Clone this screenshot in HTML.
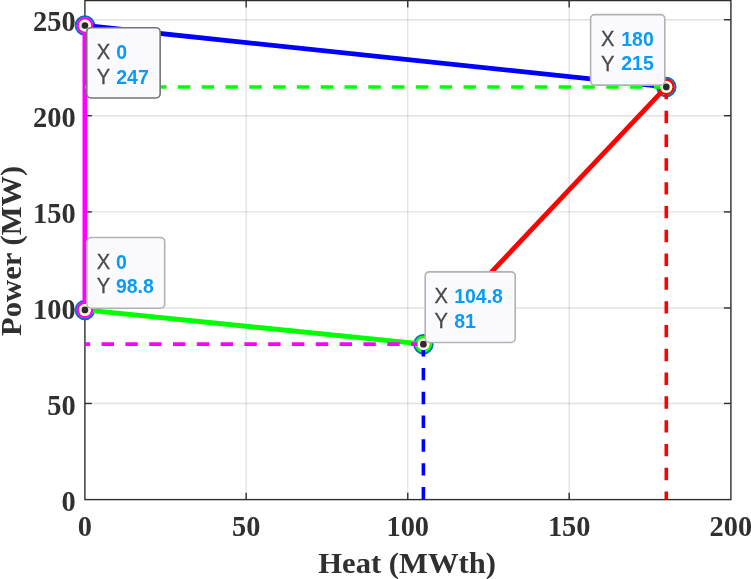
<!DOCTYPE html><html><head><meta charset="utf-8"><title>Heat Power</title>
<style>html,body{margin:0;padding:0;background:#fff;overflow:hidden}svg{display:block}.tk{font-family:"Liberation Serif","Times New Roman",serif;font-weight:bold;font-size:28.4px;fill:#303030}.lb{font-family:"Liberation Serif","Times New Roman",serif;font-weight:bold;font-size:29.3px;fill:#303030}.tl{font-family:"Liberation Sans",Arial,sans-serif;font-size:21.2px;fill:#484848;stroke:#484848;stroke-width:0.3px}.tv{font-family:"Liberation Sans",Arial,sans-serif;font-size:20.6px;font-weight:bold;fill:#0a9bf7}</style></head><body>
<svg width="751" height="579" viewBox="0 0 751 579">
<rect x="0" y="0" width="751" height="579" fill="#fff"/>
<line x1="246.17" y1="0.55" x2="246.17" y2="499.6" stroke="#262626" stroke-opacity="0.135" stroke-width="1.35"/>
<line x1="407.76" y1="0.55" x2="407.76" y2="499.6" stroke="#262626" stroke-opacity="0.135" stroke-width="1.35"/>
<line x1="569.17" y1="0.55" x2="569.17" y2="499.6" stroke="#262626" stroke-opacity="0.135" stroke-width="1.35"/>
<line x1="84.9" y1="403.45" x2="730.9" y2="403.45" stroke="#262626" stroke-opacity="0.135" stroke-width="1.35"/>
<line x1="84.9" y1="307.96" x2="730.9" y2="307.96" stroke="#262626" stroke-opacity="0.135" stroke-width="1.35"/>
<line x1="84.9" y1="211.90" x2="730.9" y2="211.90" stroke="#262626" stroke-opacity="0.135" stroke-width="1.35"/>
<line x1="84.9" y1="115.73" x2="730.9" y2="115.73" stroke="#262626" stroke-opacity="0.135" stroke-width="1.35"/>
<line x1="84.9" y1="19.76" x2="730.9" y2="19.76" stroke="#262626" stroke-opacity="0.135" stroke-width="1.35"/>
<rect x="84.9" y="0.55" width="646.00" height="499.05" fill="none" stroke="#2e2e2e" stroke-width="1.4"/>
<line x1="246.17" y1="499.6" x2="246.17" y2="492.70000000000005" stroke="#2e2e2e" stroke-width="1.4"/>
<line x1="246.17" y1="0.55" x2="246.17" y2="7.45" stroke="#2e2e2e" stroke-width="1.4"/>
<line x1="407.76" y1="499.6" x2="407.76" y2="492.70000000000005" stroke="#2e2e2e" stroke-width="1.4"/>
<line x1="407.76" y1="0.55" x2="407.76" y2="7.45" stroke="#2e2e2e" stroke-width="1.4"/>
<line x1="569.17" y1="499.6" x2="569.17" y2="492.70000000000005" stroke="#2e2e2e" stroke-width="1.4"/>
<line x1="569.17" y1="0.55" x2="569.17" y2="7.45" stroke="#2e2e2e" stroke-width="1.4"/>
<line x1="84.9" y1="403.45" x2="91.80000000000001" y2="403.45" stroke="#2e2e2e" stroke-width="1.4"/>
<line x1="730.9" y1="403.45" x2="724.0" y2="403.45" stroke="#2e2e2e" stroke-width="1.4"/>
<line x1="84.9" y1="307.96" x2="91.80000000000001" y2="307.96" stroke="#2e2e2e" stroke-width="1.4"/>
<line x1="730.9" y1="307.96" x2="724.0" y2="307.96" stroke="#2e2e2e" stroke-width="1.4"/>
<line x1="84.9" y1="211.90" x2="91.80000000000001" y2="211.90" stroke="#2e2e2e" stroke-width="1.4"/>
<line x1="730.9" y1="211.90" x2="724.0" y2="211.90" stroke="#2e2e2e" stroke-width="1.4"/>
<line x1="84.9" y1="115.73" x2="91.80000000000001" y2="115.73" stroke="#2e2e2e" stroke-width="1.4"/>
<line x1="730.9" y1="115.73" x2="724.0" y2="115.73" stroke="#2e2e2e" stroke-width="1.4"/>
<line x1="84.9" y1="19.76" x2="91.80000000000001" y2="19.76" stroke="#2e2e2e" stroke-width="1.4"/>
<line x1="730.9" y1="19.76" x2="724.0" y2="19.76" stroke="#2e2e2e" stroke-width="1.4"/>
<circle cx="84.90" cy="25.51" r="9.25" fill="none" stroke="#0072bd" stroke-width="2.0"/>
<circle cx="666.30" cy="86.93" r="9.25" fill="none" stroke="#0072bd" stroke-width="2.0"/>
<circle cx="423.40" cy="344.13" r="9.25" fill="none" stroke="#0072bd" stroke-width="2.0"/>
<circle cx="84.90" cy="309.96" r="9.25" fill="none" stroke="#0072bd" stroke-width="2.0"/>
<line x1="84.90" y1="25.51" x2="666.30" y2="86.93" stroke="#0000ff" stroke-width="4.8"/>
<line x1="666.30" y1="86.93" x2="423.40" y2="344.13" stroke="#ff0000" stroke-width="4.8"/>
<line x1="423.40" y1="344.13" x2="84.90" y2="309.96" stroke="#00ff00" stroke-width="4.8"/>
<line x1="84.90" y1="309.96" x2="84.90" y2="25.51" stroke="#ff00ff" stroke-width="4.8"/>
<circle cx="84.90" cy="25.51" r="7.2" fill="#fff" stroke="#ff00ff" stroke-width="2.4"/>
<circle cx="666.30" cy="86.93" r="7.2" fill="#fff" stroke="#ff0000" stroke-width="2.4"/>
<circle cx="423.40" cy="344.13" r="7.2" fill="#fff" stroke="#00ff00" stroke-width="2.4"/>
<circle cx="84.90" cy="309.96" r="7.2" fill="#fff" stroke="#ff00ff" stroke-width="2.4"/>
<line x1="666.30" y1="86.93" x2="84.90" y2="86.93" stroke="#00ff00" stroke-width="3.6" stroke-dasharray="12.4 11.4"/>
<line x1="423.40" y1="344.13" x2="84.90" y2="344.13" stroke="#ff00ff" stroke-width="3.6" stroke-dasharray="12.4 11.4"/>
<line x1="423.40" y1="344.13" x2="423.40" y2="499.60" stroke="#0000ff" stroke-width="3.6" stroke-dasharray="12.4 11.4"/>
<line x1="666.30" y1="86.93" x2="666.30" y2="499.60" stroke="#ff0000" stroke-width="3.6" stroke-dasharray="12.4 11.4"/>
<circle cx="84.90" cy="25.51" r="6.0" fill="#fffde0"/>
<circle cx="84.90" cy="25.51" r="3.35" fill="#2b2b2b"/>
<circle cx="666.30" cy="86.93" r="6.0" fill="#fffde0"/>
<circle cx="666.30" cy="86.93" r="3.35" fill="#2b2b2b"/>
<circle cx="423.40" cy="344.13" r="6.0" fill="#fffde0"/>
<circle cx="423.40" cy="344.13" r="3.35" fill="#2b2b2b"/>
<circle cx="84.90" cy="309.96" r="6.0" fill="#fffde0"/>
<circle cx="84.90" cy="309.96" r="3.35" fill="#2b2b2b"/>
<rect x="86.75" y="27.70" width="73.40" height="70.30" rx="4.2" ry="4.2" fill="#fbfbff" stroke="#747474" stroke-width="1.6"/>
<text class="tl" transform="translate(96.85,58.90) scale(0.95,1)">X</text>
<text class="tv" transform="translate(116.25,58.90) scale(0.945,1)">0</text>
<text class="tl" transform="translate(96.85,83.60) scale(0.95,1)">Y</text>
<text class="tv" transform="translate(116.25,83.50) scale(0.945,1)">247</text>
<rect x="590.60" y="14.60" width="74.20" height="70.50" rx="4.2" ry="4.2" fill="#fbfbff" stroke="#b2b2b2" stroke-width="1.6"/>
<text class="tl" transform="translate(600.90,45.80) scale(0.95,1)">X</text>
<text class="tv" transform="translate(621.30,45.80) scale(0.945,1)">180</text>
<text class="tl" transform="translate(600.90,70.50) scale(0.95,1)">Y</text>
<text class="tv" transform="translate(621.30,70.40) scale(0.945,1)">215</text>
<rect x="86.90" y="237.50" width="77.80" height="70.70" rx="4.2" ry="4.2" fill="#fbfbff" stroke="#b2b2b2" stroke-width="1.6"/>
<text class="tl" transform="translate(96.80,268.70) scale(0.95,1)">X</text>
<text class="tv" transform="translate(115.90,268.70) scale(0.945,1)">0</text>
<text class="tl" transform="translate(96.80,293.40) scale(0.95,1)">Y</text>
<text class="tv" transform="translate(115.90,293.30) scale(0.945,1)">98.8</text>
<rect x="425.20" y="271.90" width="90.00" height="70.60" rx="4.2" ry="4.2" fill="#fbfbff" stroke="#b2b2b2" stroke-width="1.6"/>
<text class="tl" transform="translate(434.40,303.10) scale(0.95,1)">X</text>
<text class="tv" transform="translate(454.20,303.10) scale(0.945,1)">104.8</text>
<text class="tl" transform="translate(434.40,327.80) scale(0.95,1)">Y</text>
<text class="tv" transform="translate(454.20,327.70) scale(0.945,1)">81</text>
<text class="tk" transform="translate(84.90,536.2) scale(1,1.038)" text-anchor="middle">0</text>
<text class="tk" transform="translate(246.17,536.2) scale(1,1.038)" text-anchor="middle">50</text>
<text class="tk" transform="translate(407.76,536.2) scale(1,1.038)" text-anchor="middle">100</text>
<text class="tk" transform="translate(569.17,536.2) scale(1,1.038)" text-anchor="middle">150</text>
<text class="tk" transform="translate(730.90,536.2) scale(1,1.038)" text-anchor="middle">200</text>
<text class="tk" transform="translate(75.6,511.10) scale(1,1.038)" text-anchor="end">0</text>
<text class="tk" transform="translate(75.6,414.95) scale(1,1.038)" text-anchor="end">50</text>
<text class="tk" transform="translate(75.6,319.46) scale(1,1.038)" text-anchor="end">100</text>
<text class="tk" transform="translate(75.6,223.40) scale(1,1.038)" text-anchor="end">150</text>
<text class="tk" transform="translate(75.6,127.23) scale(1,1.038)" text-anchor="end">200</text>
<text class="tk" transform="translate(75.6,31.26) scale(1,1.038)" text-anchor="end">250</text>
<text class="lb" transform="translate(407.1,573.0) scale(1.045,1)" text-anchor="middle">Heat (MWth)</text>
<text class="lb" transform="translate(21.4,250.8) rotate(-90) scale(1.045,1)" text-anchor="middle">Power (MW)</text>
</svg></body></html>
